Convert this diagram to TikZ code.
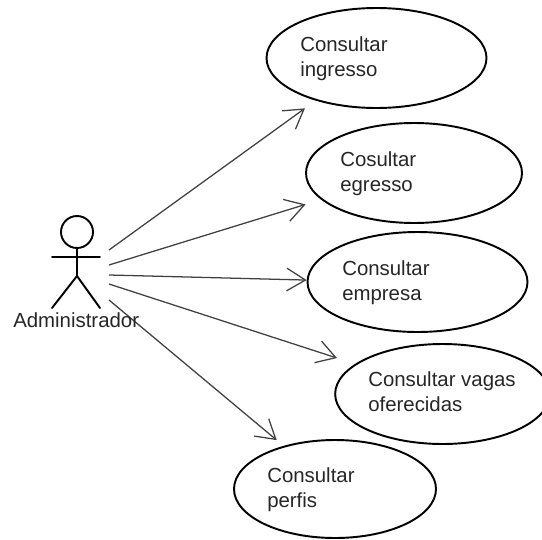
\documentclass[tikz,border=0pt]{standalone}
\usepackage{fontspec}
\setmainfont{Liberation Sans}
\usetikzlibrary{arrows.meta}
\usetikzlibrary{shapes.geometric}

\begin{document}
\begin{tikzpicture}[x=0.75pt,y=0.75pt,yscale=-1,xscale=1,
  usecase/.style={draw=black,line width=1.45pt,ellipse,inner sep=0pt},
  usecasetext/.style={anchor=base west,inner sep=0pt,align=left,text=black!85,font=\fontsize{15.3}{18.75}\selectfont},
  assoc/.style={draw=black!75,line width=0.95pt,-{Straight Barb[length=14pt,width=17pt]}},
  stick/.style={draw=black,line width=1.45pt,line cap=round}]
\path [use as bounding box,clip] (0,0) rectangle (542,539);

%Use cases
\draw (376.5,58) node [usecase,minimum width=165pt,minimum height=75pt] (ingresso) {};
\draw (414,173) node [usecase,minimum width=162pt,minimum height=75pt] (egresso) {};
\draw (417.5,282) node [usecase,minimum width=165pt,minimum height=75pt] (empresa) {};
\draw (442.5,394) node [usecase,minimum width=161pt,minimum height=75pt] (vagas) {};
\draw (335,489) node [usecase,minimum width=151.5pt,minimum height=73.5pt] (perfis) {};

%Actor
\draw (77,232) node [circle,draw=black,line width=1.45pt,inner sep=0pt,minimum size=24pt] (head) {};
\coordinate (hip) at (77,276);
\coordinate (armleft) at (52,257);
\coordinate (armright) at (100,257);
\coordinate (footleft) at (52,308);
\coordinate (footright) at (100,308);
\draw [stick] (head.south) -- (hip);
\draw [stick] (armleft) -- (armright);
\draw [stick] (footleft) -- (hip) -- (footright);

%Free ends at the actor
\coordinate (tailingresso) at (109,250);
\coordinate (tailegresso) at (109,265);
\coordinate (tailempresa) at (109,275);
\coordinate (tailvagas) at (109,284);
\coordinate (tailperfis) at (109,300);

%Associations
\draw [assoc,shorten >=9.9pt] (tailingresso) -- (ingresso.215.75);
\draw [assoc,shorten >=12.2pt] (tailegresso) -- (egresso.196.8);
\draw [assoc] (tailempresa) -- (empresa.179);
\draw [assoc,shorten >=14.3pt] (tailvagas) -- (vagas.161.7);
\draw [assoc,shorten >=6.7pt] (tailperfis) -- (perfis.140.4);

% Text Node
\draw (13,327) node [usecasetext] (administrador) {Administrador};
% Text Node
\draw (300,76) node [usecasetext] (ingressotext) {Consultar\\ingresso};
% Text Node
\draw (340,191) node [usecasetext] (egressotext) {Cosultar\\egresso};
% Text Node
\draw (342,300) node [usecasetext] (empresatext) {Consultar\\empresa};
% Text Node
\draw (368,411) node [usecasetext] (vagastext) {Consultar vagas\\oferecidas};
% Text Node
\draw (267,507) node [usecasetext] (perfistext) {Consultar\\perfis};

\end{tikzpicture}
\end{document}
